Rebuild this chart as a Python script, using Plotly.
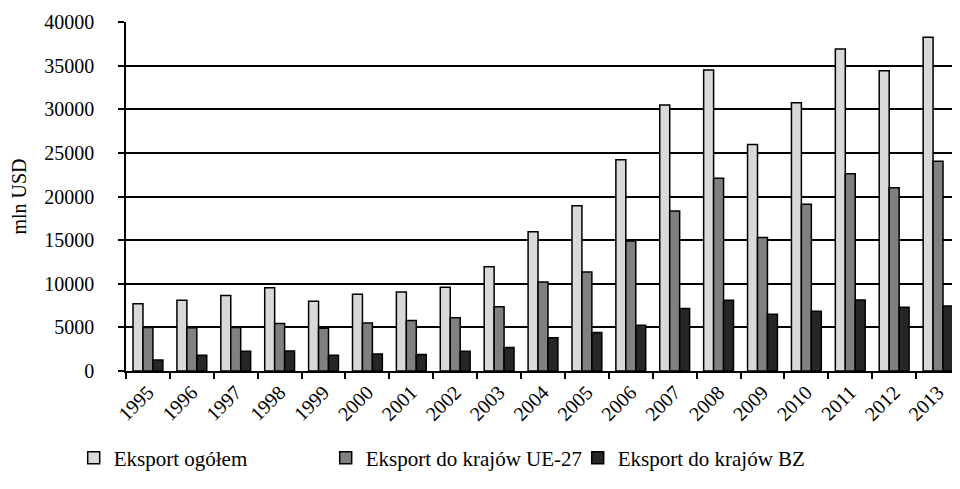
import plotly.graph_objects as go

years = ["1995","1996","1997","1998","1999","2000","2001","2002","2003","2004",
         "2005","2006","2007","2008","2009","2010","2011","2012","2013"]
eksport_ogolem = [7700, 8100, 8650, 9550, 8000, 8800, 9050, 9600, 11950, 15950,
                  18950, 24200, 30500, 34500, 25950, 30750, 36900, 34400, 38250]
eksport_ue27 = [5000, 4950, 5000, 5450, 4900, 5500, 5800, 6100, 7350, 10200,
                11350, 14900, 18350, 22100, 15300, 19100, 22600, 21000, 24050]
eksport_bz = [1250, 1800, 2250, 2300, 1800, 1950, 1900, 2250, 2700, 3800,
              4400, 5250, 7150, 8100, 6500, 6850, 8150, 7300, 7450]

series = [
    ("Eksport ogółem", eksport_ogolem, "#d9d9d9"),
    ("Eksport do krajów UE-27", eksport_ue27, "#808080"),
    ("Eksport do krajów BZ", eksport_bz, "#262626"),
]

fig = go.Figure()
for name, vals, col in series:
    fig.add_trace(go.Bar(x=years, y=vals, name=name,
                         marker=dict(color=col, line=dict(color="black", width=1.5))))

font = "Liberation Serif"
fig.update_layout(
    width=952, height=481,
    margin=dict(l=118, r=0, t=14, b=118, autoexpand=False),
    plot_bgcolor="white", paper_bgcolor="white",
    font=dict(family=font, size=20, color="black"),
    barmode="group", bargap=0.32, bargroupgap=0,
    showlegend=True,
    legend=dict(orientation="h", x=0.069, xref="container", xanchor="left",
                y=0.064, yref="container", yanchor="middle",
                entrywidth=207, entrywidthmode="pixels", itemwidth=30,
                font=dict(family=font, size=21), traceorder="normal"),
    xaxis=dict(type="category", range=[-0.5, 18.5], tickangle=-45, automargin=False,
               ticks="outside", ticklen=6, tickcolor="black", tickwidth=1.5,
               tickson="boundaries", showline=True, linecolor="black", linewidth=1.5,
               showgrid=False, tickfont=dict(family=font, size=20)),
    yaxis=dict(range=[0, 40000], dtick=5000, tickformat="d", automargin=False,
               ticks="outside", ticklen=6, tickcolor="black", tickwidth=1.5,
               ticklabelstandoff=20,
               showline=True, linecolor="black", linewidth=1.5,
               showgrid=True, gridcolor="black", gridwidth=1.5, zeroline=False,
               title=dict(text="mln USD", font=dict(family=font, size=20), standoff=26),
               tickfont=dict(family=font, size=20)),
)
fig.write_html("out.html")
